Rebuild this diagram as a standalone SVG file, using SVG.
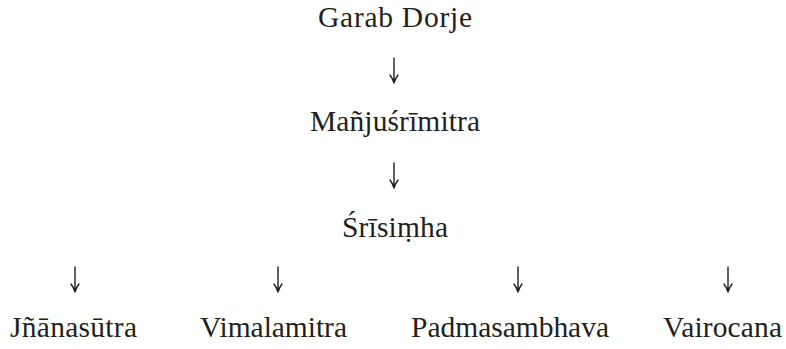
<svg xmlns="http://www.w3.org/2000/svg" width="786" height="349" viewBox="0 0 786 349">
  <style>
    .t { font-family: "Liberation Serif", "Times New Roman", serif; font-size: 29.5px; fill: #231f20; }
    .a { fill: none; stroke: #231f20; stroke-width: 1.4; stroke-linecap: round; stroke-linejoin: miter; }
  </style>
  <defs>
    <path id="arr" class="a" d="M0,0 V25 M-4,17 Q-1,21 0,25 Q1,21 4,17"/>
  </defs>
  <rect width="786" height="349" fill="#ffffff"/>
  <g id="connectors">
    <use href="#arr" x="394" y="58"/>
    <use href="#arr" x="394" y="163"/>
    <use href="#arr" x="75" y="267"/>
    <use href="#arr" x="278" y="267"/>
    <use href="#arr" x="518" y="267"/>
    <use href="#arr" x="728" y="267"/>
  </g>
  <g id="garab-dorje"><text class="t" x="318" y="27" textLength="154" lengthAdjust="spacing">Garab Dorje</text></g>
  <g id="manjusrimitra"><text class="t" x="310" y="131" textLength="170" lengthAdjust="spacing">Mañjuśrīmitra</text></g>
  <g id="srisimha"><text class="t" x="342" y="237" textLength="106" lengthAdjust="spacing">Śrīsiṃha</text></g>
  <g id="jnanasutra"><text class="t" x="10" y="337" textLength="127" lengthAdjust="spacing">Jñānasūtra</text></g>
  <g id="vimalamitra"><text class="t" x="200" y="337" textLength="147" lengthAdjust="spacing">Vimalamitra</text></g>
  <g id="padmasambhava"><text class="t" x="411" y="337" textLength="198" lengthAdjust="spacing">Padmasambhava</text></g>
  <g id="vairocana"><text class="t" x="663" y="337" textLength="119" lengthAdjust="spacing">Vairocana</text></g>
</svg>
